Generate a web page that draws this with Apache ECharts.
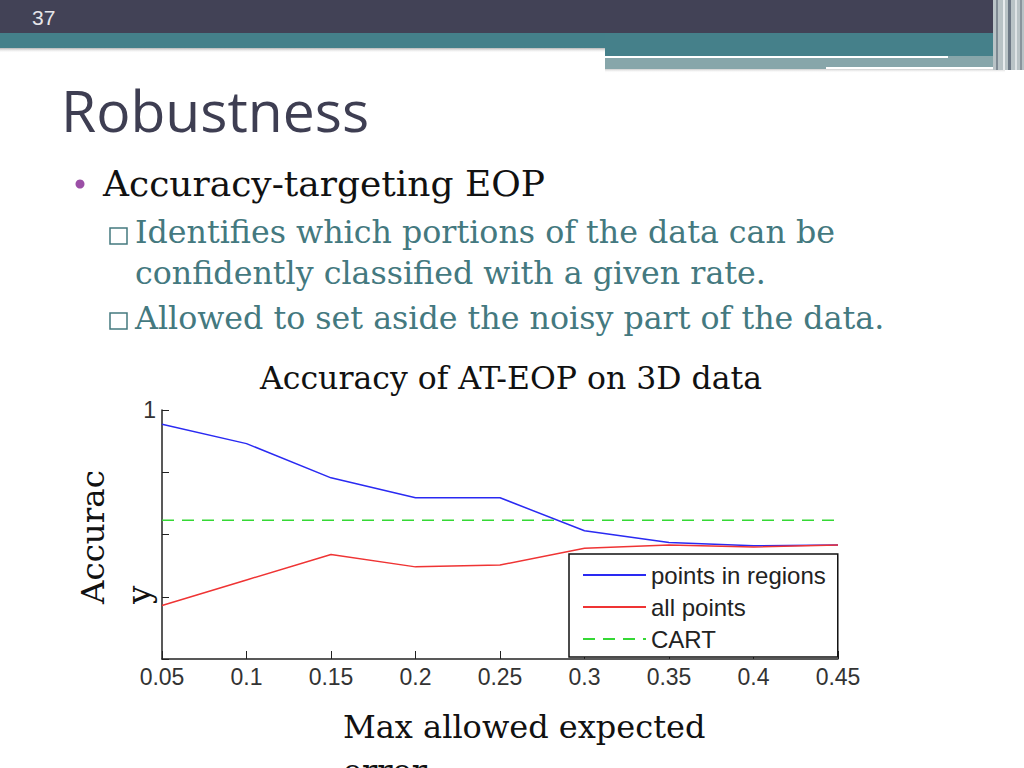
<!DOCTYPE html>
<html>
<head>
<meta charset="utf-8">
<title>Robustness</title>
<script src="https://cdn.jsdelivr.net/npm/echarts@6/dist/echarts.min.js"></script>
<style>
    html, body { margin: 0; padding: 0; background: #fff; }
    #chartContainer { width: 1024px; height: 768px; }
</style>
</head>
<body>
<div id="chartContainer"></div>
<script>
// chart data
const errorLevels = ['0.05', '0.1', '0.15', '0.2', '0.25', '0.3', '0.35', '0.4', '0.45'];
const pointsInRegions = [0.977, 0.946, 0.891, 0.859, 0.859, 0.806, 0.787, 0.782, 0.783];
const allPoints = [0.686, 0.727, 0.768, 0.748, 0.751, 0.778, 0.783, 0.780, 0.783];
const cartAccuracy = [0.823, 0.823, 0.823, 0.823, 0.823, 0.823, 0.823, 0.823, 0.823];
const seriesNames = ['points in regions', 'all points', 'CART'];

const serif = '"DejaVu Serif", "Liberation Serif", serif';
const sans = '"Liberation Sans", Arial, sans-serif';
const teal = '#44797f';

let chart = null;

function slideGraphics() {
    return [
        // header band
        { type: 'rect', shape: { x: 0, y: 0, width: 1024, height: 33 }, style: { fill: '#424256' } },
        { type: 'rect', shape: { x: 0, y: 48, width: 605, height: 5 },
          style: { fill: new echarts.graphic.LinearGradient(0, 0, 0, 1, [
              { offset: 0, color: 'rgba(90,90,90,0.45)' }, { offset: 1, color: 'rgba(255,255,255,0)' }]) } },
        { type: 'rect', shape: { x: 0, y: 33, width: 1024, height: 15 }, style: { fill: '#44808a' } },
        { type: 'rect', shape: { x: 605, y: 69, width: 400, height: 4 },
          style: { fill: new echarts.graphic.LinearGradient(0, 0, 0, 1, [
              { offset: 0, color: 'rgba(90,90,90,0.3)' }, { offset: 1, color: 'rgba(255,255,255,0)' }]) } },
        { type: 'rect', shape: { x: 605, y: 33, width: 419, height: 23 }, style: { fill: '#45808a' } },
        { type: 'rect', shape: { x: 605, y: 56, width: 400, height: 13 }, style: { fill: '#87a6aa' } },
        { type: 'rect', shape: { x: 605, y: 56, width: 343, height: 2 }, style: { fill: '#ffffff' } },
        { type: 'rect', shape: { x: 826, y: 67, width: 179, height: 2 }, style: { fill: '#ffffff' } },
        { type: 'rect', shape: { x: 993, y: 0, width: 31, height: 70 }, style: { fill: '#b9c3c6' } },
        { type: 'rect', shape: { x: 996, y: 0, width: 2, height: 70 }, style: { fill: '#7f8a93' } },
        { type: 'rect', shape: { x: 1003, y: 0, width: 2, height: 70 }, style: { fill: '#e8ecee' } },
        { type: 'rect', shape: { x: 1008, y: 0, width: 3, height: 70 }, style: { fill: '#6d7885' } },
        { type: 'rect', shape: { x: 1015, y: 0, width: 2, height: 70 }, style: { fill: '#dfe4e6' } },
        { type: 'rect', shape: { x: 1020, y: 0, width: 2, height: 70 }, style: { fill: '#8a949c' } },
        { type: 'text', x: 32, y: 17, style: { text: '37', fill: '#e6e6ea', font: '21px ' + sans, align: 'left', verticalAlign: 'middle' } },

        // slide title and bullets
        { type: 'text', x: 61, y: 110, style: { text: 'Robustness', fill: '#3e3e52', font: '57px "Open Sans", sans-serif', verticalAlign: 'middle' } },
        { type: 'circle', shape: { cx: 80, cy: 184, r: 4.5 }, style: { fill: '#9b4fa6' } },
        { type: 'text', x: 103, y: 183, style: { text: 'Accuracy-targeting EOP', fill: '#111', font: '36px ' + serif, verticalAlign: 'middle' } },
        { type: 'rect', shape: { x: 110, y: 228, width: 17, height: 16 }, style: { fill: 'none', stroke: teal, lineWidth: 1.5 } },
        { type: 'text', x: 135, y: 232, style: { text: 'Identifies which portions of the data can be', fill: teal, font: '31.7px ' + serif, verticalAlign: 'middle' } },
        { type: 'text', x: 135, y: 273, style: { text: 'confidently classified with a given rate.', fill: teal, font: '31.7px ' + serif, verticalAlign: 'middle' } },
        { type: 'rect', shape: { x: 110, y: 313, width: 17, height: 16 }, style: { fill: 'none', stroke: teal, lineWidth: 1.5 } },
        { type: 'text', x: 135, y: 318, style: { text: 'Allowed to set aside the noisy part of the data.', fill: teal, font: '31.7px ' + serif, verticalAlign: 'middle' } },

        // chart title and axis names
        { type: 'text', x: 511, y: 378, style: { text: 'Accuracy of AT-EOP on 3D data', fill: '#111', font: '31.5px ' + serif, align: 'center', verticalAlign: 'middle' } },
        { type: 'text', x: 70, y: 604, rotation: Math.PI / 2,
          style: { text: 'Accurac\ny', fill: '#111', font: '32.5px ' + serif, lineHeight: 46, align: 'left', verticalAlign: 'top' } },
        { type: 'text', x: 343, y: 705, style: { text: 'Max allowed expected\nerror', fill: '#111', font: '32px ' + serif, lineHeight: 44, align: 'left', verticalAlign: 'top' } }
    ];
}

function initChart() {
    chart = echarts.init(document.getElementById('chartContainer'), null, { renderer: 'svg' });
    chart.setOption({
        backgroundColor: '#ffffff',
        animation: false,
        graphic: slideGraphics(),
        grid: {
            left: 162,
            right: 186,
            top: 410,
            bottom: 109
        },
        legend: {
            data: seriesNames,
            orient: 'vertical',
            left: 569,
            top: 554,
            padding: [9, 12, 6, 13],
            itemWidth: 63,
            itemHeight: 20,
            itemGap: 8,
            borderColor: '#111',
            borderWidth: 1.5,
            backgroundColor: '#fff',
            itemStyle: { opacity: 0 },
            textStyle: { fontFamily: sans, fontSize: 24, lineHeight: 22, color: '#222' }
        },
        xAxis: {
            type: 'category',
            data: errorLevels,
            boundaryGap: false,
            axisLine: { lineStyle: { color: '#222', width: 1.5 } },
            axisTick: { inside: true, length: 8, lineStyle: { color: '#222' } },
            axisLabel: { color: '#333', fontFamily: sans, fontSize: 23, margin: 6 },
            splitLine: { show: false }
        },
        yAxis: {
            type: 'value',
            min: 0.6,
            max: 1,
            interval: 0.1,
            axisLine: { show: true, lineStyle: { color: '#222', width: 1.5 } },
            axisTick: { show: true, inside: true, length: 7, lineStyle: { color: '#222' } },
            axisLabel: {
                color: '#333', fontFamily: sans, fontSize: 23, margin: 6,
                formatter: v => (v === 1 ? '1' : '')
            },
            splitLine: { show: false }
        },
        series: [
            {
                name: seriesNames[0],
                type: 'line',
                data: pointsInRegions,
                symbol: 'none',
                lineStyle: { color: '#2a2af2', width: 1.5 },
                itemStyle: { color: '#2a2af2' }
            },
            {
                name: seriesNames[1],
                type: 'line',
                data: allPoints,
                symbol: 'none',
                lineStyle: { color: '#ef3434', width: 1.5 },
                itemStyle: { color: '#ef3434' }
            },
            {
                name: seriesNames[2],
                type: 'line',
                data: cartAccuracy,
                symbol: 'none',
                lineStyle: { color: '#35d835', width: 1.5, type: [12, 8] },
                itemStyle: { color: '#35d835' }
            }
        ]
    });
}

initChart();
</script>
</body>
</html>
